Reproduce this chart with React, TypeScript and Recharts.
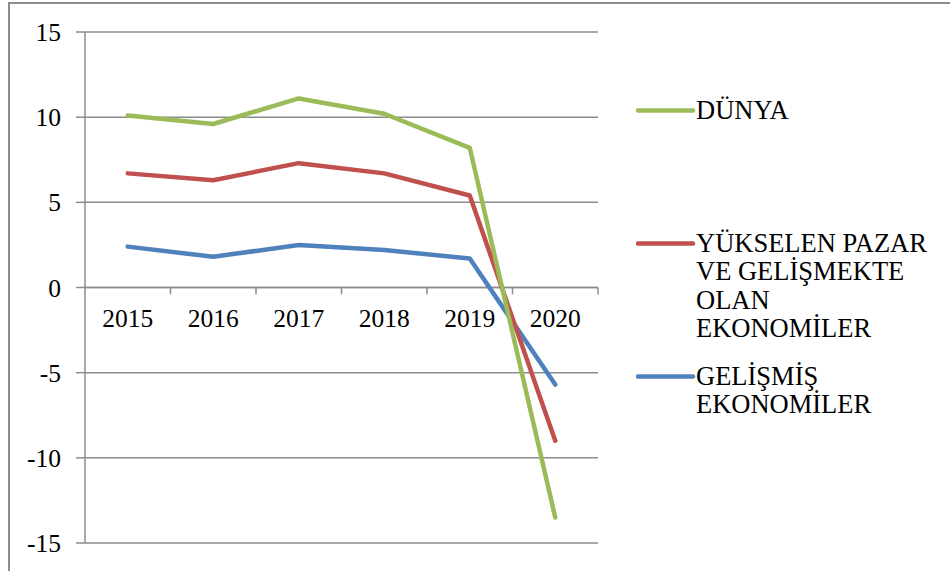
import React from "react";
import { LineChart, Line, XAxis, YAxis, CartesianGrid, ReferenceLine } from "recharts";

const years = ["2015", "2016", "2017", "2018", "2019", "2020"];
const dunya = [10.1, 9.6, 11.1, 10.2, 8.2, -13.5];
const yukselen = [6.7, 6.3, 7.3, 6.7, 5.4, -9.0];
const gelismis = [2.4, 1.8, 2.5, 2.2, 1.7, -5.7];
const yTicks = [-15, -10, -5, 0, 5, 10, 15];

const legendNames = ["DÜNYA", "YÜKSELEN PAZAR VE GELİŞMEKTE OLAN EKONOMİLER", "GELİŞMİŞ EKONOMİLER"];
const legendKeys = ["dunya", "yukselen", "gelismis"];
const colors: Record<string, string> = { dunya: "#9BBB59", yukselen: "#C0504D", gelismis: "#4F81BD" };

const data = years.map((y, i) => ({ year: y, dunya: dunya[i], yukselen: yukselen[i], gelismis: gelismis[i] }));

const FONT = "Liberation Serif";
const GRID = "#8c8c8c";
const W = 950, H = 571;
const PLOT_LEFT = 85, PLOT_RIGHT = 598;
const PLOT_TOP = 32, PLOT_BOTTOM = 543;
const Y_MIN = -15, Y_MAX = 15;
const zeroY = PLOT_TOP + ((PLOT_BOTTOM - PLOT_TOP) * Y_MAX) / (Y_MAX - Y_MIN);
const band = (PLOT_RIGHT - PLOT_LEFT) / years.length;

// year labels sit under the zero line (excel style), with tick marks on the category borders
const renderYearTick = (props: any) => {
  const { x, index, payload } = props;
  return (
    <g key={index}>
      <line x1={x + band / 2} x2={x + band / 2} y1={zeroY} y2={zeroY + 7} stroke={GRID} strokeWidth={1.5} />
      <text x={x} y={zeroY + 31} textAnchor="middle" dominantBaseline="central" fontSize={25.5} fontFamily={FONT} fill="#000">
        {payload.value}
      </text>
    </g>
  );
};

export default function App() {
  return (
    <div style={{ position: "absolute", left: 0, top: 0, width: W, height: H, background: "#fff", overflow: "hidden" }}>
      <div style={{ position: "absolute", left: 8, top: 2, width: W, height: H, borderLeft: `2px solid ${GRID}`, borderTop: `2px solid ${GRID}` }} />
      <div style={{ position: "absolute", left: 0, top: 0 }}>
        <LineChart width={W} height={H} data={data} margin={{ top: PLOT_TOP, right: W - PLOT_RIGHT, bottom: 0, left: 0 }}>
          <CartesianGrid vertical={false} stroke={GRID} strokeWidth={1.5} />
          <XAxis
            dataKey="year"
            height={H - PLOT_BOTTOM}
            padding={{ left: band / 2, right: band / 2 }}
            axisLine={false}
            tickLine={false}
            tick={renderYearTick}
            interval={0}
          />
          <YAxis
            domain={[Y_MIN, Y_MAX]}
            ticks={yTicks}
            width={PLOT_LEFT}
            tickSize={9}
            tickMargin={15}
            axisLine={{ stroke: GRID, strokeWidth: 1.5 }}
            tickLine={{ stroke: GRID, strokeWidth: 1.5 }}
            tick={{ fill: "#000", fontSize: 25.5, fontFamily: FONT }}
            interval={0}
          />
          <ReferenceLine y={0} stroke={GRID} strokeWidth={1.5} />
          <Line dataKey="gelismis" stroke={colors.gelismis} strokeWidth={4.5} strokeLinecap="round" strokeLinejoin="round" dot={false} isAnimationActive={false} />
          <Line dataKey="yukselen" stroke={colors.yukselen} strokeWidth={4.5} strokeLinecap="round" strokeLinejoin="round" dot={false} isAnimationActive={false} />
          <Line dataKey="dunya" stroke={colors.dunya} strokeWidth={4.5} strokeLinecap="round" strokeLinejoin="round" dot={false} isAnimationActive={false} />
        </LineChart>
      </div>
      {legendKeys.map((k, i) => (
        <div key={k} style={{ position: "absolute", left: 636, top: 96 + i * 133, display: "flex", alignItems: "flex-start" }}>
          <svg width={60} height={28} style={{ flex: "none" }}>
            <line x1={2} y1={14.5} x2={57} y2={14.5} stroke={colors[k]} strokeWidth={4.5} strokeLinecap="round" />
          </svg>
          <div style={{ width: 250, fontFamily: FONT, fontSize: 26.5, lineHeight: "28.3px", color: "#000" }}>{legendNames[i]}</div>
        </div>
      ))}
    </div>
  );
}
